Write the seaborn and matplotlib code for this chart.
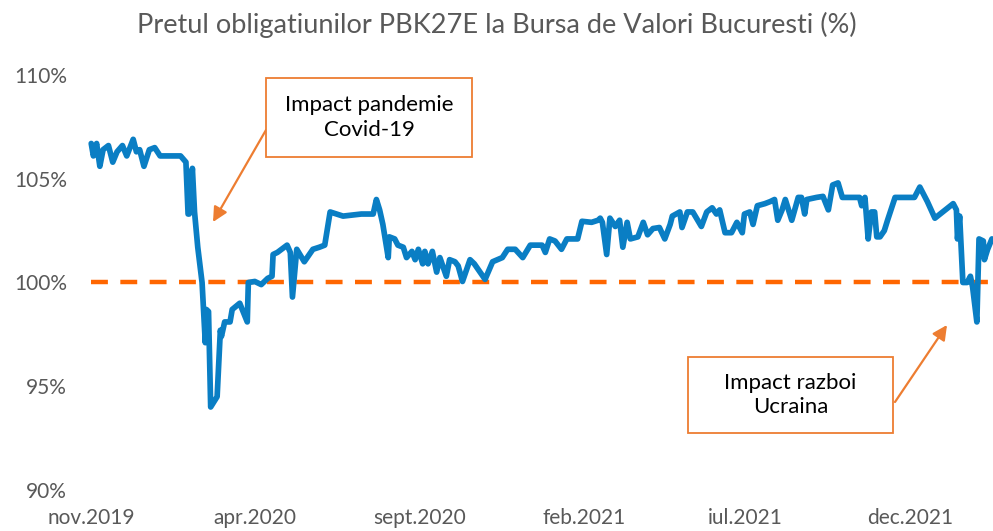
import pandas as pd
import seaborn as sns
import matplotlib.pyplot as plt
from matplotlib.patches import Rectangle

sns.set_style("white")
plt.rcParams.update({'font.family': ['Lato', 'DejaVu Sans']})

# price of PBK27E bonds, % of nominal
dates = ['2019-11-01', '2019-11-03', '2019-11-06', '2019-11-09', '2019-11-12', '2019-11-17',
         '2019-11-21', '2019-11-25', '2019-11-30', '2019-12-04', '2019-12-10', '2019-12-13',
         '2019-12-16', '2019-12-20', '2019-12-25', '2019-12-30', '2020-01-04', '2020-01-23',
         '2020-01-28', '2020-01-30', '2020-01-31', '2020-02-03', '2020-02-05', '2020-02-08',
         '2020-02-12', '2020-02-13', '2020-02-15', '2020-02-16', '2020-02-18', '2020-02-20',
         '2020-02-26', '2020-02-29', '2020-03-01', '2020-03-04', '2020-03-09', '2020-03-11',
         '2020-03-18', '2020-03-25', '2020-03-26', '2020-04-01', '2020-04-07', '2020-04-13',
         '2020-04-17', '2020-04-18', '2020-04-22', '2020-05-01', '2020-05-04', '2020-05-06',
         '2020-05-10', '2020-05-17', '2020-05-25', '2020-05-31', '2020-06-05', '2020-06-10',
         '2020-06-22', '2020-07-09', '2020-07-20', '2020-07-23', '2020-07-26', '2020-07-29',
         '2020-08-03', '2020-08-04', '2020-08-09', '2020-08-12', '2020-08-17', '2020-08-20',
         '2020-08-25', '2020-08-28', '2020-08-31', '2020-09-04', '2020-09-06', '2020-09-09',
         '2020-09-13', '2020-09-17', '2020-09-20', '2020-09-26', '2020-09-29', '2020-10-04',
         '2020-10-07', '2020-10-11', '2020-10-18', '2020-10-22', '2020-11-01', '2020-11-08',
         '2020-11-17', '2020-11-22', '2020-11-29', '2020-12-06', '2020-12-13', '2020-12-24',
         '2020-12-27', '2020-12-31', '2021-01-05', '2021-01-11', '2021-01-16', '2021-01-26',
         '2021-01-30', '2021-02-08', '2021-02-14', '2021-02-16', '2021-02-18', '2021-02-22',
         '2021-02-25', '2021-03-02', '2021-03-06', '2021-03-09', '2021-03-13', '2021-03-16',
         '2021-03-23', '2021-03-28', '2021-04-01', '2021-04-06', '2021-04-12', '2021-04-17',
         '2021-04-22', '2021-04-24', '2021-05-01', '2021-05-03', '2021-05-08', '2021-05-13',
         '2021-05-21', '2021-05-26', '2021-05-31', '2021-06-04', '2021-06-07', '2021-06-12',
         '2021-06-18', '2021-06-23', '2021-06-28', '2021-06-30', '2021-07-05', '2021-07-08',
         '2021-07-12', '2021-07-19', '2021-07-24', '2021-07-28', '2021-07-31', '2021-08-04',
         '2021-08-07', '2021-08-13', '2021-08-19', '2021-08-22', '2021-08-25', '2021-08-27',
         '2021-09-05', '2021-09-11', '2021-09-16', '2021-09-20', '2021-09-25', '2021-09-29',
         '2021-10-15', '2021-10-17', '2021-10-20', '2021-10-23', '2021-10-26', '2021-10-29',
         '2021-10-31', '2021-11-03', '2021-11-07', '2021-11-10', '2021-11-17', '2021-12-05',
         '2021-12-10', '2021-12-17', '2021-12-24', '2022-01-10', '2022-01-13', '2022-01-14',
         '2022-01-16', '2022-01-19', '2022-01-23', '2022-01-26', '2022-01-28', '2022-02-01',
         '2022-02-03', '2022-02-07', '2022-02-08', '2022-02-11', '2022-02-15', '2022-02-22',
         '2022-02-28']
price = [106.7, 106.1, 106.7, 105.6, 106.4, 106.6,
         105.8, 106.3, 106.6, 106.1, 106.9, 106.3,
         106.4, 105.6, 106.4, 106.5, 106.1, 106.1,
         105.8, 103.3, 103.3, 105.5, 103.4, 101.7,
         100.0, 99.0, 97.1, 98.7, 98.6, 94.0,
         94.5, 97.7, 97.4, 98.1, 98.1, 98.7,
         99.0, 98.1, 100.0, 100.05, 99.9, 100.2,
         100.3, 101.35, 101.45, 101.8, 101.45, 99.3,
         101.6, 101.0, 101.6, 101.7, 101.8, 103.4,
         103.2, 103.3, 103.3, 104.0, 103.5, 102.8,
         101.2, 102.2, 102.1, 101.8, 101.7, 101.2,
         101.5, 101.1, 101.6, 100.9, 101.5, 100.9,
         101.5, 100.5, 101.2, 100.3, 101.1, 101.0,
         100.8, 100.05, 101.1, 100.9, 100.15, 101.0,
         101.2, 101.6, 101.6, 101.2, 101.8, 101.8,
         101.45, 102.1, 102.0, 101.6, 102.1, 102.1,
         102.95, 102.9, 103.0, 103.1, 102.9, 101.35,
         103.1, 102.7, 103.0, 101.7, 102.9, 102.1,
         102.2, 102.9, 102.3, 102.6, 102.65, 102.1,
         102.8, 103.2, 103.4, 102.65, 103.4, 103.4,
         102.7, 103.4, 103.6, 103.3, 103.5, 102.4,
         102.4, 102.9, 102.4, 103.3, 103.4, 102.8,
         103.7, 103.8, 103.9, 104.0, 103.0, 103.5,
         104.0, 103.0, 104.1, 104.1, 103.3, 104.0,
         104.1, 104.15, 103.5, 104.7, 104.8, 104.1,
         104.1, 103.7, 104.1, 102.1, 103.4, 103.4,
         102.2, 102.2, 102.5, 103.0, 104.1, 104.1,
         104.6, 103.9, 103.1, 103.8, 103.5, 102.1,
         103.2, 100.0, 100.0, 100.3, 99.8, 98.1,
         102.1, 102.0, 101.1, 101.6, 102.1, 101.8,
         102.2]

par_level = 100
x_ticks = ['2019-11-01', '2020-04-01', '2020-09-01', '2021-02-01', '2021-07-01', '2021-12-01']
x_labels = ['nov.2019', 'apr.2020', 'sept.2020', 'feb.2021', 'iul.2021', 'dec.2021']
y_ticks = [90, 95, 100, 105, 110]
y_labels = ['90%', '95%', '100%', '105%', '110%']

df = pd.DataFrame({'Data': pd.to_datetime(dates), 'Pret': price})

grey = '#595959'
orange = '#ED7D31'

fig = plt.figure(figsize=(9.93, 5.31), dpi=100)
ax = fig.add_axes([88 / 993, 1 - 490 / 531, 1 - 88 / 993, (490 - 75) / 531])

sns.lineplot(data=df, x='Data', y='Pret', ax=ax, color='#0A7EC4', linewidth=4.1, zorder=3)
ax.plot([df['Data'].iloc[0], df['Data'].iloc[-1]], [par_level, par_level],
        color='#FF6600', linewidth=3.2, dashes=(3.8, 2.8), zorder=2)

ax.set_xlim(pd.Timestamp('2019-10-29'), pd.Timestamp('2022-02-16'))
ax.set_ylim(90, 110)
ax.set_xticks(pd.to_datetime(x_ticks))
ax.set_xticklabels(x_labels)
ax.set_yticks(y_ticks)
ax.set_yticklabels(y_labels)
ax.tick_params(axis='x', length=0, pad=13, labelsize=15, labelcolor=grey)
ax.tick_params(axis='y', length=0, pad=15, labelsize=15, labelcolor=grey)
ax.set_xlabel('')
ax.set_ylabel('')
sns.despine(ax=ax, left=True, bottom=True)

fig.text(0.5, 1 - 25 / 531, 'Pretul obligatiunilor PBK27E la Bursa de Valori Bucuresti (%)',
         ha='center', va='center', fontsize=19.5, color=grey)

# annotation boxes (figure pixel layout converted to fractions)
def note_box(x0, y0, x1, y1, text):
    fig.patches.append(Rectangle((x0 / 993, 1 - y1 / 531), (x1 - x0) / 993, (y1 - y0) / 531,
                                 transform=fig.transFigure, facecolor='white',
                                 edgecolor=orange, linewidth=1.3, zorder=5))
    fig.text((x0 + x1) / 2 / 993, 1 - (y0 + y1) / 2 / 531, text, ha='center', va='center',
             fontsize=16, color='black', linespacing=1.3, zorder=6)

def note_arrow(xs, ys, xe, ye):
    ax.annotate('', xy=(xe / 993, 1 - ye / 531), xytext=(xs / 993, 1 - ys / 531),
                xycoords='figure fraction', textcoords='figure fraction',
                arrowprops=dict(arrowstyle='-|>', color=orange, lw=1.6, mutation_scale=22,
                                shrinkA=0, shrinkB=0))

note_box(266, 78, 472, 157, 'Impact pandemie\nCovid-19')
note_arrow(266, 130, 213, 222)
note_box(688, 357, 893, 433, 'Impact razboi\nUcraina')
note_arrow(895, 402, 947, 325)

plt.savefig('out.png', dpi=100)
